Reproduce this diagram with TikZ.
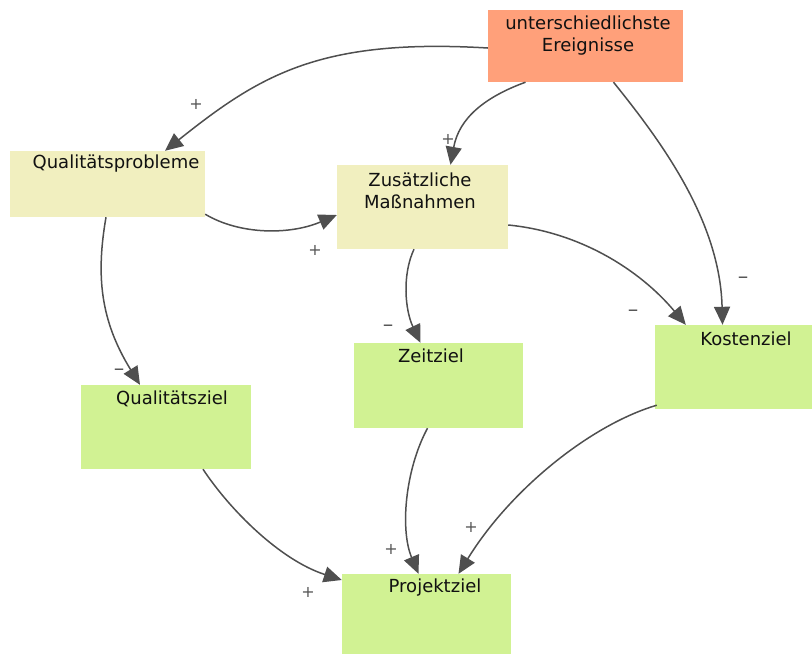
\documentclass[tikz,border=0pt]{standalone}
\usepackage{fontspec}
\setmainfont{DejaVu Sans}
\usetikzlibrary{arrows.meta,calc}
\definecolor{evcol}{HTML}{FFA07A}
\definecolor{probcol}{HTML}{F1EFBF}
\definecolor{zielcol}{HTML}{D1F293}
\definecolor{arrcol}{HTML}{4F4F4F}
\definecolor{txtcol}{HTML}{111111}
\definecolor{sgncol}{HTML}{555555}
\tikzset{
  box/.style={rectangle, inner sep=0pt, draw=none},
  boxtext/.style={text=txtcol, font=\fontsize{18}{22}\selectfont, align=center, inner sep=0pt},
  conn/.style={draw=arrcol, line width=1.5pt, -{Triangle[length=18pt,width=16pt]}},
  sign/.style={text=sgncol, font=\fontsize{16}{18}\selectfont, inner sep=0pt},
  msign/.style={text=sgncol, font=\fontsize{21}{22}\selectfont, inner sep=0pt},
}
\begin{document}
\begin{tikzpicture}[x=1pt,y=-1pt]
\useasboundingbox (0,0) rectangle (812,654);
% boxes
\node[box, fill=evcol, minimum width=195pt, minimum height=72pt] (ev) at (585.5,46) {};
\node[box, fill=probcol, minimum width=195pt, minimum height=66pt] (qp) at (107.5,184) {};
\node[box, fill=probcol, minimum width=171pt, minimum height=84pt] (zm) at (422.5,207) {};
\node[box, fill=zielcol, minimum width=157pt, minimum height=84pt] (kz) at (733.5,367) {};
\node[box, fill=zielcol, minimum width=169pt, minimum height=85pt] (zz) at (438.5,385.5) {};
\node[box, fill=zielcol, minimum width=170pt, minimum height=84pt] (qz) at (166,427) {};
\node[box, fill=zielcol, minimum width=169pt, minimum height=80pt] (pz) at (426.5,614) {};
% texts
\node[boxtext] (evt) at (588,36) {unterschiedlichste\\Ereignisse};
\node[boxtext] (qpt) at (116,164) {Qualitätsprobleme};
\node[boxtext] (zmt) at (420,191) {Zusätzliche\\Maßnahmen};
\node[boxtext] (kzt) at (746,339) {Kostenziel};
\node[boxtext] (zzt) at (431,356) {Zeitziel};
\node[boxtext] (qzt) at (172,399) {Qualitätsziel};
\node[boxtext] (pzt) at (435,588) {Projektziel};
% connectors
\draw[conn] ($(ev.west)+(0,2)$) .. controls (320,38) and (260,75) .. ($(qp.north)+(57.5,0)$);
\draw[conn] ($(ev.south)+(-60,0)$) .. controls (485,97) and (459,118) .. ($(zm.north)+(28,0)$);
\draw[conn] ($(ev.south)+(28,0)$) .. controls (660,140) and (720,220) .. ($(kz.north)+(-11,0)$);
\draw[conn] ($(qp.south east)+(0,-3)$) .. controls (240,235) and (290,235) .. ($(zm.west)+(0,8)$);
\draw[conn] ($(qp.south)+(-1.5,0)$) .. controls (96,275) and (100,320) .. ($(qz.north)+(-26,0)$);
\draw[conn] ($(zm.east)+(0,18)$) .. controls (580,232) and (640,270) .. ($(kz.north west)+(31,0)$);
\draw[conn] ($(zm.south)+(-8.5,0)$) .. controls (402,275) and (405,310) .. ($(zz.north)+(-18,0)$);
\draw[conn] ($(qz.south)+(37,0)$) .. controls (230,510) and (280,560) .. ($(pz.west)+(0,-34)$);
\draw[conn] ($(zz.south)+(-11,0)$) .. controls (405,470) and (400,530) .. ($(pz.north)+(-8,0)$);
\draw[conn] ($(kz.south west)+(2,-4)$) .. controls (590,425) and (510,490) .. ($(pz.north)+(32,0)$);
% signs
\node[sign] (s1) at (196,104) {+};
\node[sign] (s2) at (448,139) {+};
\node[msign] (s3) at (743,280) {–};
\node[sign] (s4) at (315,250) {+};
\node[msign] (s5) at (119,372) {–};
\node[msign] (s6) at (633,313) {–};
\node[msign] (s7) at (388,328) {–};
\node[sign] (s8) at (308,592) {+};
\node[sign] (s9) at (391,549) {+};
\node[sign] (s10) at (471,527) {+};
\end{tikzpicture}
\end{document}
